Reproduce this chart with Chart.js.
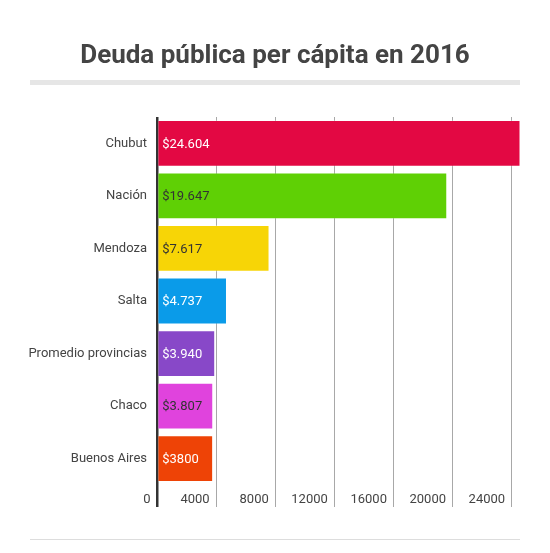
<!DOCTYPE html>
<html>
<head>
<meta charset="utf-8">
<script src="https://cdn.jsdelivr.net/npm/chart.js@4"></script>
<style>
    html, body { margin: 0; padding: 0; background: #fff; }
    #chart { display: block; }
</style>
</head>
<body>
<canvas id="chart" width="550" height="553"></canvas>
<script>
// Data
const chartTitle = "Deuda pública per cápita en 2016";
const regions = ["Chubut", "Nación", "Mendoza", "Salta", "Promedio provincias", "Chaco", "Buenos Aires"];
const debt = [24604, 19647, 7617, 4737, 3940, 3807, 3800];
const debtLabels = ["$24.604", "$19.647", "$7.617", "$4.737", "$3.940", "$3.807", "$3800"];
const xTicks = [0, 4000, 8000, 12000, 16000, 20000, 24000];

// Styles
const barColors = ["#e30843", "#5fd005", "#f7d506", "#0a9be9", "#8848c8", "#e043dd", "#ee4306"];
const labelColors = ["#ffffff", "#333333", "#333333", "#ffffff", "#ffffff", "#333333", "#ffffff"];
const textColor = "#444444";
const fontFamily = "Roboto, 'Noto Sans', sans-serif";

const decorations = {
    id: "decorations",

    beforeDraw(chart) {
        const ctx = chart.ctx;
        ctx.save();
        ctx.fillStyle = textColor;
        ctx.font = "bold 26px " + fontFamily;
        ctx.textAlign = "center";
        ctx.textBaseline = "alphabetic";
        ctx.fillText(chartTitle, 275, 63);

        ctx.fillStyle = "#e6e6e6";
        ctx.fillRect(30, 80, 490, 5);

        ctx.fillStyle = "#dddddd";
        ctx.fillRect(30, 539, 490, 1);
        ctx.restore();
    },

    afterDatasetsDraw(chart) {
        const ctx = chart.ctx;
        const meta = chart.getDatasetMeta(0);
        ctx.save();
        ctx.font = "13px " + fontFamily;
        ctx.textAlign = "left";
        ctx.textBaseline = "middle";
        meta.data.forEach((bar, i) => {
            ctx.fillStyle = labelColors[i];
            ctx.fillText(debtLabels[i], bar.base + 4, bar.y + 1);
        });
        ctx.restore();
    },
};

new Chart(document.getElementById("chart").getContext("2d"), {
    type: "bar",

    data: {
        labels: regions,

        datasets: [
            {
                data: debt,
                backgroundColor: barColors,
                borderColor: "rgba(255, 255, 255, 0.25)",
                borderWidth: 1,
                barPercentage: 0.89,
                categoryPercentage: 1,
            },
        ],
    },

    options: {
        indexAxis: "y",
        responsive: false,
        animation: false,
        events: [],

        layout: {
            padding: { top: 117, right: 29.5, bottom: 46, left: 0 },
        },

        scales: {
            x: {
                type: "linear",
                beginAtZero: true,
                bounds: "data",
                border: { display: false },
                grid: {
                    color: (c) => (c.tick && c.tick.value === 0 ? "#333333" : "#a8a8a8"),
                    lineWidth: (c) => (c.tick && c.tick.value === 0 ? 2.5 : 1),
                    tickLength: 22,
                },
                ticks: {
                    align: "end",
                    padding: -15,
                    maxRotation: 0,
                    autoSkip: false,
                    color: textColor,
                    font: { family: fontFamily, size: 13 },
                    callback: (value) => value + "  ",
                },
                afterBuildTicks: (scale) => {
                    scale.ticks = xTicks.map((v) => ({ value: v }));
                },
                afterFit: (scale) => {
                    scale.height = 22;
                },
            },

            y: {
                border: { display: false },
                grid: { display: false, drawTicks: false },
                ticks: {
                    padding: 10,
                    color: textColor,
                    font: { family: fontFamily, size: 13 },
                },
                afterFit: (scale) => {
                    scale.width = 157;
                },
            },
        },

        plugins: {
            legend: { display: false },
            tooltip: { enabled: false },
        },
    },

    plugins: [decorations],
});
</script>
</body>
</html>
